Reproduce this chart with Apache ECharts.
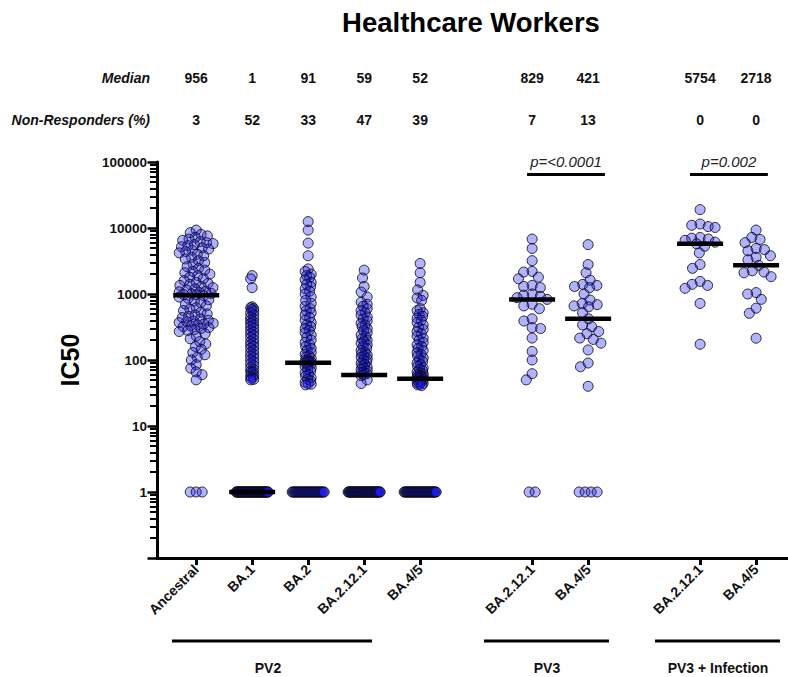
<!DOCTYPE html>
<html><head><meta charset="utf-8">
<script src="https://cdn.jsdelivr.net/npm/echarts@6/dist/echarts.min.js"></script>
<style>html,body{margin:0;padding:0;background:#fff}#c{width:788px;height:677px}</style>
</head><body><div id="c"></div>
<script>
// ---------- DATA ----------
const categories = ['Ancestral','BA.1','BA.2','BA.2.12.1','BA.4/5','BA.2.12.1','BA.4/5','BA.2.12.1','BA.4/5'];
const catPos = [1,2,3,4,5,7,8,10,11];
const groupNames = ['PV2','PV3','PV3 + Infection'];
const medians = [956,1,91,59,52,829,421,5754,2718];
const nonResponders = [3,52,33,47,39,7,13,0,0];
const pValues = ['p=<0.0001','p=0.002'];
const title = 'Healthcare Workers';
const yName = 'IC50';
const yDecades = [0.1,1,10,100,1000,10000,100000];

const ancestral = [9300,8500,8000,7600,7200,6800,6500,6200,6000,5800,5600,5400,5200,5000,4800,4600,4400,4200,4000,3800,
 3600,3400,3200,3000,2800,2600,2450,2300,2200,2100,2000,1900,1800,1700,1600,1500,1450,1400,1350,1300,
 1250,1200,1150,1100,1080,1050,1020,1000,980,970,942,
 900,860,820,780,740,700,660,620,590,560,530,500,480,460,440,420,400,390,380,370,
 360,350,340,330,320,310,300,290,280,270,250,230,210,190,175,160,145,130,120,110,
 100,85,75,66,60,50, 1,1,1];
const ba1 = [1900,1700,1250,640,620,600,580,550,520,480,450,420,400,380,360,340,320,300,280,265,250,
 235,220,205,190,180,170,160,150,140,130,122,115,108,100,94,88,82,77,72,68,66,64,60,57,55,53,51,50,
 1,1,1,1,1,1,1,1,1,1,1,1,1,1,1,1,1,1,1,1,1,1,1,1,1,1,1,1,1,1,1,1,1,1,1,1,1,1,1,1,1,1,1,1,1,1,1,1,1,1,1,1];
const ba2 = [12500,9300,5900,3800,2400,2200,2000,1900,1800,1650,1500,1400,1300,1200,1100,1000,900,800,720,650,
 600,560,520,480,440,400,370,340,320,300,280,260,240,220,200,185,170,160,150,140,130,122,115,110,105,100,97,95,93,
 92,90, 88,84,80,76,72,68,64,60,57,54,51,48,46,44,43,42,
 1,1,1,1,1,1,1,1,1,1,1,1,1,1,1,1,1,1,1,1,1,1,1,1,1,1,1,1,1,1,1,1,1];
const ba2121 = [2300,1750,1300,1070,900,750,700,650,600,560,520,480,450,420,390,360,340,320,300,280,
 260,240,225,210,200,190,180,170,160,150,140,130,125,120,115,110,105,100,95,90,86,82,78,75,72,69,66,64,62,
 60,58,50,44,
 1,1,1,1,1,1,1,1,1,1,1,1,1,1,1,1,1,1,1,1,1,1,1,1,1,1,1,1,1,1,1,1,1,1,1,1,1,1,1,1,1,1,1,1,1,1,1];
const ba45 = [2900,2100,1500,1150,950,870,800,600,560,520,490,460,430,400,370,340,310,290,270,250,
 230,215,200,185,170,160,150,140,130,122,115,108,100,95,90,85,80,76,72,69,66,64,62,60,58,57,56,55,54,
 53,51, 50,49,48,47,46,45,44,43,42,41,
 1,1,1,1,1,1,1,1,1,1,1,1,1,1,1,1,1,1,1,1,1,1,1,1,1,1,1,1,1,1,1,1,1,1,1,1,1,1,1];
const pv3Ba2121 = [6800,4900,3200,2200,2150,1800,1700,1350,1300,1250,1000,960,920,880,829,
 700,660,600,420,390,310,300,215,135,100,62,50,1,1];
const pv3Ba45 = [5600,2800,2100,1620,1400,1350,1300,1250,1000,810,720,690,660,640,520,421,
 340,320,270,250,215,205,180,142,90,79,40,1,1,1,1];
const infBa2121 = [19000,11500,11000,10500,10200,7200,7000,6800,6500,6100,5754,5300,4200,2800,2450,1550,1400,1350,1220,720,173];
const infBa45 = [9300,7200,6700,6000,4900,4700,4500,3800,3600,3300,2718,2250,2150,2100,1830,1050,1000,830,610,510,214];

const columns = [ancestral, ba1, ba2, ba2121, ba45, pv3Ba2121, pv3Ba45, infBa2121, infBa45];

// ---------- STYLE / LAYOUT ----------
const FONT = '"Liberation Sans", Arial, Helvetica, sans-serif';
const X_MIN = 0.3, X_MAX = 11.57;
const spreadCfg = [
  {half:17, d:6.5}, {half:1.5, d:8}, {half:3, d:8}, {half:3, d:8}, {half:3, d:8},
  {half:15, d:8.5}, {half:15, d:8.5}, {half:15, d:8.5}, {half:15, d:8.5}
];
const oneStep = 6, oneSpan = 32;

// minor tick positions (2..9 within each decade), expressed as log10 for a linear helper axis
const minorTickExp = [];
for (let k = 0; k < yDecades.length - 1; k++) {
  for (let m = 2; m <= 9; m++) minorTickExp.push(Math.log10(yDecades[k] * m));
}

const chart = echarts.init(document.getElementById('c'), null, {renderer:'svg'});
const grid = {left:157, top:162, right:0, bottom:119};

function topAxis(offset, arr) {
  return {type:'value', min:X_MIN, max:X_MAX, position:'top', offset:offset, splitLine:{show:false},
    axisLine:{show:false}, axisTick:{show:false},
    axisLabel:{show:true, customValues:catPos, margin:0, verticalAlign:'middle',
      formatter:v => { const i = catPos.indexOf(Math.round(v)); return i>=0 ? String(arr[i]) : ''; },
      fontFamily:FONT, fontWeight:'bold', fontSize:14, color:'#111'}};
}

function baseOption(pointSeriesData) {
  return {
    animation:false,
    backgroundColor:'#fff',
    grid: grid,
    xAxis: [
      {type:'value', min:X_MIN, max:X_MAX, splitLine:{show:false},
       axisLine:{show:true, onZero:false, lineStyle:{color:'#000', width:3}},
       axisTick:{show:true, customValues:catPos, length:7, lineStyle:{color:'#000', width:3}},
       axisLabel:{show:true, customValues:catPos, rotate:45, margin:9,
         formatter:v => categories[catPos.indexOf(Math.round(v))] || '',
         fontFamily:FONT, fontWeight:'bold', fontSize:14, color:'#111'}},
      topAxis(84, medians),
      topAxis(42, nonResponders)
    ],
    yAxis: [{
      type:'log', logBase:10, min:0.1, max:100000, splitNumber:6,
      name:yName, nameLocation:'middle', nameGap:75, nameRotate:90,
      nameTextStyle:{fontFamily:FONT, fontWeight:'bold', fontSize:25, color:'#000'},
      splitLine:{show:false},
      axisLine:{show:true, lineStyle:{color:'#000', width:3}},
      axisTick:{show:true, length:9.5, lineStyle:{color:'#000', width:2.5}},
      axisLabel:{margin:10, formatter:v => v < 1 ? '' : String(Math.round(v)),
        fontFamily:FONT, fontWeight:'bold', fontSize:13.5, color:'#111'}
    }, {
      // helper axis in log10 units: carries the 2..9 minor ticks of the log axis
      type:'value', min:-1, max:5, position:'left', offset:0,
      splitLine:{show:false},
      axisLine:{show:false},
      axisTick:{show:true, customValues:minorTickExp, length:7, lineStyle:{color:'#000', width:2}},
      axisLabel:{show:false}
    }],
    graphic: [
      {type:'text', x:471, y:22, style:{text:title, align:'center', verticalAlign:'middle',
        font:'bold 27.5px ' + FONT, fill:'#000'}},
      {type:'text', x:150, y:78, style:{text:'Median', align:'right', verticalAlign:'middle',
        font:'italic bold 14px ' + FONT, fill:'#111'}},
      {type:'text', x:150, y:120, style:{text:'Non-Responders (%)', align:'right', verticalAlign:'middle',
        font:'italic bold 14px ' + FONT, fill:'#111'}},
      {type:'line', shape:{x1:172, y1:641, x2:372, y2:641}, style:{stroke:'#000', lineWidth:3}},
      {type:'line', shape:{x1:484, y1:641, x2:609, y2:641}, style:{stroke:'#000', lineWidth:3}},
      {type:'line', shape:{x1:655, y1:641, x2:780, y2:641}, style:{stroke:'#000', lineWidth:3}},
      {type:'text', x:268, y:668, style:{text:groupNames[0], align:'center', verticalAlign:'middle', font:'bold 14px ' + FONT, fill:'#111'}},
      {type:'text', x:547, y:668, style:{text:groupNames[1], align:'center', verticalAlign:'middle', font:'bold 14px ' + FONT, fill:'#111'}},
      {type:'text', x:718, y:668, style:{text:groupNames[2], align:'center', verticalAlign:'middle', font:'bold 14px ' + FONT, fill:'#111'}}
    ],
    series: [
      {type:'scatter', name:'points', id:'points', symbol:'circle', symbolSize:10, z:2,
       itemStyle:{color:'rgba(25,25,250,0.33)', borderColor:'rgba(10,10,20,0.85)', borderWidth:1, opacity:1},
       data: pointSeriesData,
       markLine:{silent:true, symbol:['none','none'],
         lineStyle:{color:'#000', width:3, type:'solid', opacity:1},
         label:{show:true, position:'insideMiddleTop', distance:5, fontFamily:FONT, fontStyle:'italic', fontSize:15, color:'#222',
           formatter:p => p.name},
         data:[
           [{name:pValues[0], coord:[6.91, 65800]}, {coord:[8.30, 65800]}],
           [{name:pValues[1], coord:[9.82, 65800]}, {coord:[11.21, 65800]}]
         ]}
      },
      {type:'scatter', name:'median', id:'median', symbol:'rect', symbolSize:[46,4.5], z:5,
       itemStyle:{color:'#000', opacity:1},
       data: catPos.map((x,i) => [x, medians[i]])}
    ]
  };
}

function rawData() {
  const out = [];
  columns.forEach((vals, ci) => vals.forEach(v => out.push({value:[catPos[ci], v]})));
  return out;
}

chart.setOption(baseOption(rawData()));

function swarm(values, xPos, cfg) {
  const pts = values.map(v => ({v, y: chart.convertToPixel({yAxisIndex:0}, v)}));
  const ones = pts.filter(p => p.v === 1);
  const rest = pts.filter(p => p.v !== 1);
  const out = [];
  const n = ones.length;
  if (n) {
    const step = n > 1 ? Math.min(oneStep, oneSpan / (n - 1)) : 0;
    ones.forEach((p, k) => out.push({value:[xPos, p.v], symbolOffset:[-(n-1)*step/2 + k*step, 0]}));
  }
  rest.sort((a, b) => a.y - b.y);
  const placed = [];
  rest.forEach(p => {
    const D = cfg.d;
    const forb = [];
    placed.forEach(q => {
      const dy = Math.abs(q.y - p.y);
      if (dy < D) { const w = Math.sqrt(D*D - dy*dy); forb.push([q.dx - w, q.dx + w]); }
    });
    const cands = [0];
    forb.forEach(f => cands.push(f[0], f[1]));
    cands.sort((a, b) => Math.abs(a) - Math.abs(b) || a - b);
    let best = null;
    for (const c of cands) {
      if (Math.abs(c) > cfg.half + 1e-6) continue;
      if (forb.every(f => c <= f[0] + 1e-6 || c >= f[1] - 1e-6)) { best = c; break; }
    }
    if (best === null) {
      let bestScore = -1;
      for (let t = -cfg.half; t <= cfg.half + 1e-6; t += 0.5) {
        let md = Infinity;
        placed.forEach(q => { const dd = Math.hypot(q.dx - t, q.y - p.y); if (dd < md) md = dd; });
        if (md > bestScore + 1e-9) { bestScore = md; best = t; }
      }
    }
    p.dx = best;
    placed.push(p);
    out.push({value:[xPos, p.v], symbolOffset:[best, 0]});
  });
  return out;
}

const swarmData = [];
columns.forEach((vals, ci) => swarm(vals, catPos[ci], spreadCfg[ci]).forEach(d => swarmData.push(d)));
chart.setOption({series:[{id:'points', data:swarmData}]});
</script></body></html>
